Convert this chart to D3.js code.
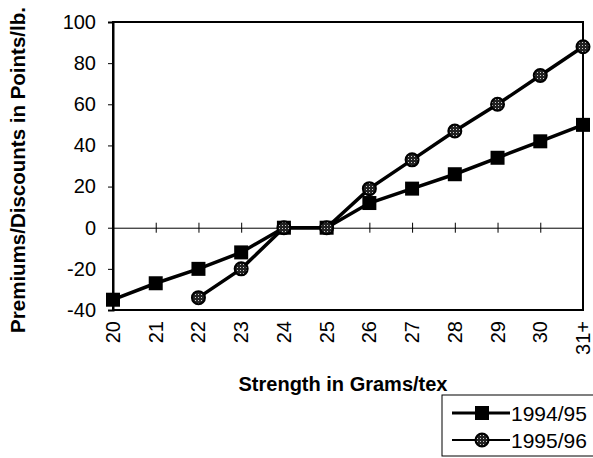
<!DOCTYPE html>
<html>
<head>
<meta charset="utf-8">
<script src="https://cdn.jsdelivr.net/npm/d3@7"></script>
<style>
  body { margin: 0; background: #fff; }
  svg { display: block; font-family: Arial, "Liberation Sans", sans-serif; }
</style>
</head>
<body>
<div class="chart"></div>
<script>
var categories = ['20', '21', '22', '23', '24', '25', '26', '27', '28', '29', '30', '31+'];
var s9495 = [-35, -27, -20, -12, 0, 0, 12, 19, 26, 34, 42, 50];
var s9596 = [null, null, -34, -20, 0, 0, 19, 33, 47, 60, 74, 88];
var yTicks = [-40, -20, 0, 20, 40, 60, 80, 100];

var width = 593,
    height = 458;

var plot = { left: 113, right: 583, top: 22, bottom: 310 };

var x = d3.scalePoint()
    .domain(categories)
    .range([plot.left, plot.right]);

var y = d3.scaleLinear()
    .domain([-40, 100])
    .range([plot.bottom, plot.top]);

var svg = d3.select('.chart')
    .append('svg')
    .attr('width', width)
    .attr('height', height);

// dotted fill for the circle markers
var defs = svg.append('defs');
var pat = defs.append('pattern')
    .attr('id', 'dots')
    .attr('width', 3)
    .attr('height', 3)
    .attr('patternUnits', 'userSpaceOnUse');
pat.append('rect').attr('width', 3).attr('height', 3).attr('fill', '#222');
pat.append('rect').attr('width', 1).attr('height', 1).attr('fill', '#ccc');

// plot box
svg.append('rect')
    .attr('x', plot.left)
    .attr('y', plot.top)
    .attr('width', plot.right - plot.left)
    .attr('height', plot.bottom - plot.top)
    .attr('fill', 'none')
    .attr('stroke', '#000')
    .attr('stroke-width', 2);

// y axis
var yAxis = d3.axisLeft(y)
    .tickValues(yTicks)
    .tickSize(5)
    .tickPadding(12)
    .tickFormat((d) => String(d));

var gy = svg.append('g')
    .attr('transform', 'translate(' + plot.left + ',0)')
    .call(yAxis);
gy.select('.domain').attr('stroke-width', 2);
gy.selectAll('text')
    .attr('font-size', 20)
    .attr('fill', '#000');

// zero line with crossing ticks
var gx = svg.append('g')
    .attr('transform', 'translate(0,' + y(0) + ')')
    .call(d3.axisBottom(x).tickSize(0).tickFormat(''));
gx.select('.domain').attr('stroke', '#000').attr('stroke-width', 1);
gx.selectAll('.tick line')
    .attr('y1', -5)
    .attr('y2', 5)
    .attr('stroke', '#000');

// x tick labels, rotated
svg.append('g')
    .selectAll('text')
    .data(categories)
    .enter()
    .append('text')
    .attr('transform', (d) => 'translate(' + (x(d) + 7) + ',' + (plot.bottom + 11) + ') rotate(-90)')
    .attr('text-anchor', 'end')
    .attr('font-size', 20)
    .text((d) => d);

// axis titles
svg.append('text')
    .attr('x', 343)
    .attr('y', 391)
    .attr('text-anchor', 'middle')
    .attr('font-size', 20)
    .attr('font-weight', 'bold')
    .text('Strength in Grams/tex');

svg.append('text')
    .attr('transform', 'translate(25,170) rotate(-90)')
    .attr('text-anchor', 'middle')
    .attr('font-size', 20.5)
    .attr('font-weight', 'bold')
    .text('Premiums/Discounts in Points/lb.');

// series
var line = d3.line()
    .defined((d) => d.v !== null)
    .x((d) => x(d.c))
    .y((d) => y(d.v));

var d1 = categories.map((c, i) => ({ c: c, v: s9495[i] }));
var d2 = categories.map((c, i) => ({ c: c, v: s9596[i] }));

svg.append('path')
    .datum(d1)
    .attr('d', line)
    .attr('fill', 'none')
    .attr('stroke', '#000')
    .attr('stroke-width', 3.5);

svg.append('path')
    .datum(d2)
    .attr('d', line)
    .attr('fill', 'none')
    .attr('stroke', '#000')
    .attr('stroke-width', 3.5);

svg.append('g')
    .selectAll('rect')
    .data(d1)
    .enter()
    .append('rect')
    .attr('x', (d) => x(d.c) - 7)
    .attr('y', (d) => y(d.v) - 7)
    .attr('width', 14)
    .attr('height', 14)
    .attr('fill', '#000');

svg.append('g')
    .selectAll('circle')
    .data(d2.filter((d) => d.v !== null))
    .enter()
    .append('circle')
    .attr('cx', (d) => x(d.c))
    .attr('cy', (d) => y(d.v))
    .attr('r', 6.5)
    .attr('fill', 'url(#dots)')
    .attr('stroke', '#000')
    .attr('stroke-width', 2);

// legend
var lg = svg.append('g');
lg.append('rect')
    .attr('x', 442)
    .attr('y', 395)
    .attr('width', 160)
    .attr('height', 61)
    .attr('fill', 'none')
    .attr('stroke', '#000')
    .attr('stroke-width', 1);

var legendItems = [
  { name: '1994/95', y: 413, marker: 'square' },
  { name: '1995/96', y: 440, marker: 'circle' }
];

legendItems.forEach(function(it) {
  lg.append('line')
    .attr('x1', 452).attr('x2', 510)
    .attr('y1', it.y).attr('y2', it.y)
    .attr('stroke', '#000')
    .attr('stroke-width', it.marker === 'square' ? 3 : 2);
  if (it.marker === 'square') {
    lg.append('rect')
      .attr('x', 475).attr('y', it.y - 7)
      .attr('width', 14).attr('height', 14)
      .attr('fill', '#000');
  } else {
    lg.append('circle')
      .attr('cx', 482).attr('cy', it.y)
      .attr('r', 6.5)
      .attr('fill', 'url(#dots)')
      .attr('stroke', '#000')
      .attr('stroke-width', 2);
  }
  lg.append('text')
    .attr('x', 511)
    .attr('y', it.y + 8)
    .attr('font-size', 21)
    .text(it.name);
});
</script>
</body>
</html>
